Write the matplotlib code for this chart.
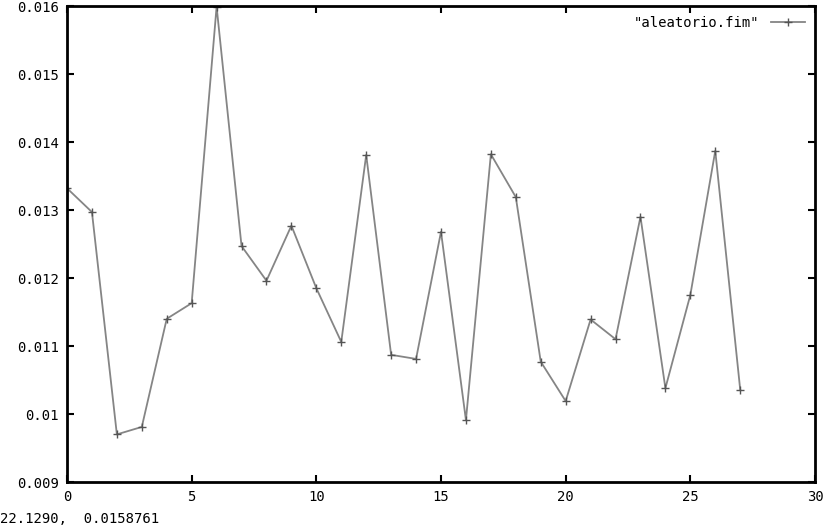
import matplotlib
matplotlib.use("Agg")
import matplotlib.pyplot as plt

x = list(range(28))
y = [0.01332, 0.01297, 0.00970, 0.00981, 0.01140, 0.01163, 0.01599, 0.01247,
     0.01196, 0.01277, 0.01185, 0.01106, 0.01381, 0.01087, 0.01081, 0.01268,
     0.00991, 0.01382, 0.01319, 0.01077, 0.01019, 0.01139, 0.01110, 0.01290,
     0.01038, 0.01175, 0.01387, 0.01036]
xticks = [0, 5, 10, 15, 20, 25, 30]
yticks = [0.009, 0.01, 0.011, 0.012, 0.013, 0.014, 0.015, 0.016]
ytick_labels = ["0.009", "0.01", "0.011", "0.012", "0.013", "0.014", "0.015", "0.016"]
series_label = '"aleatorio.fim"'
status_text = "22.1290,  0.0158761"

plt.rcParams['font.family'] = ['DejaVu Sans Mono']
fig = plt.figure(figsize=(8.26, 5.29), dpi=100)
ax = fig.add_axes([67/826, 1-482/529, (815-67)/826, (482-6)/529])

ax.plot(x, y, color='#858585', lw=1.3, marker='+', ms=5.5, mew=1.0,
        mec='#555555', label=series_label)
ax.set_xlim(0, 30)
ax.set_ylim(0.009, 0.016)
ax.set_xticks(xticks)
ax.set_yticks(yticks)
ax.set_yticklabels(ytick_labels)
ax.tick_params(direction='in', length=5, width=1.5, top=True, right=True,
               labelsize=10, pad=6, colors='black')
ax.tick_params(axis='x', labeltop=False)
ax.tick_params(axis='y', labelright=False)
for s in ax.spines.values():
    s.set_linewidth(2)
    s.set_color('black')

leg = ax.legend(loc='upper right', frameon=False, fontsize=10,
                markerfirst=False, handlelength=2.5, borderaxespad=0.3)

fig.text(0.0, 3/529, status_text, fontsize=10, ha='left', va='bottom')

fig.savefig("out.png", dpi=100)
